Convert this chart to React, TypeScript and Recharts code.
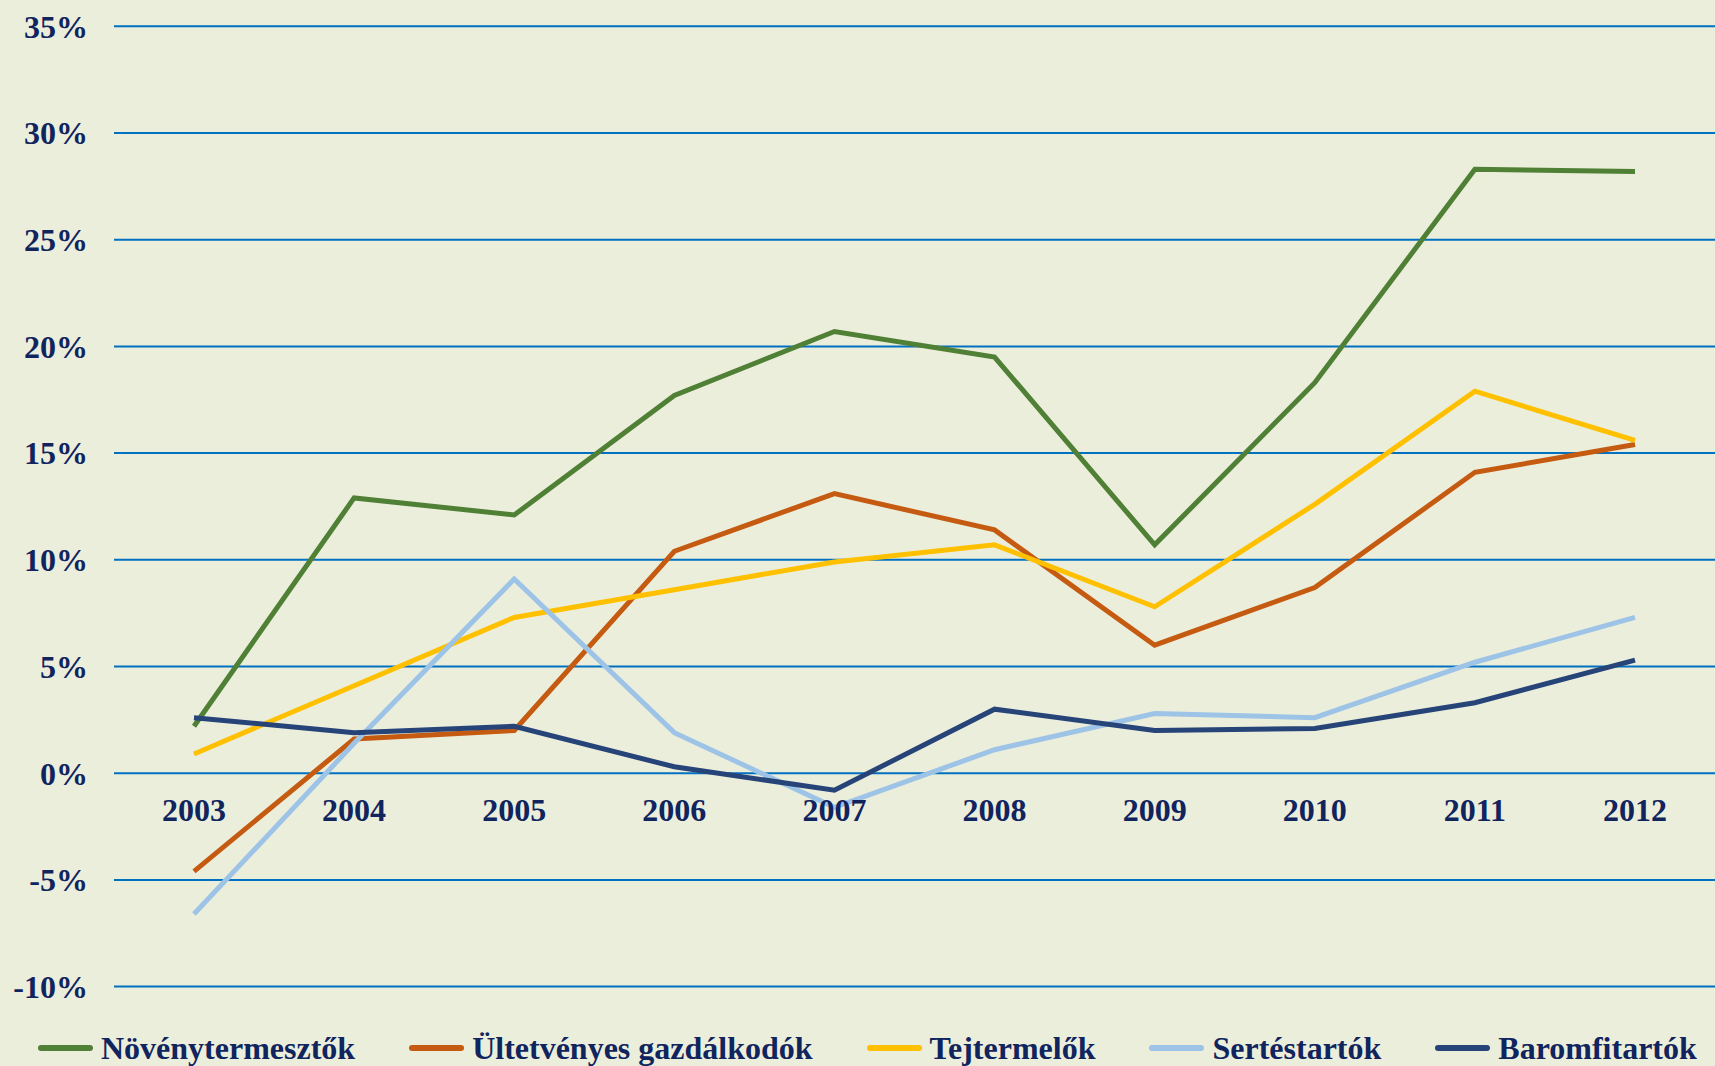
import React from 'react';
import { LineChart, Line, XAxis, YAxis, CartesianGrid, Legend } from 'recharts';

const years = ['2003', '2004', '2005', '2006', '2007', '2008', '2009', '2010', '2011', '2012'];
const novenytermesztok = [2.2, 12.9, 12.1, 17.7, 20.7, 19.5, 10.7, 18.3, 28.3, 28.2];
const ultetvenyes = [-4.6, 1.6, 2.0, 10.4, 13.1, 11.4, 6.0, 8.7, 14.1, 15.4];
const tejtermelok = [0.9, 4.1, 7.3, 8.6, 9.9, 10.7, 7.8, 12.6, 17.9, 15.6];
const sertestartok = [-6.6, 1.4, 9.1, 1.9, -1.6, 1.1, 2.8, 2.6, 5.2, 7.3];
const baromfitartok = [2.6, 1.9, 2.2, 0.3, -0.8, 3.0, 2.0, 2.1, 3.3, 5.3];
const yTicks = [-10, -5, 0, 5, 10, 15, 20, 25, 30, 35];

const seriesNames = ['Növénytermesztők', 'Ültetvényes gazdálkodók', 'Tejtermelők', 'Sertéstartók', 'Baromfitartók'];
const seriesColors = ['#4F8035', '#C55A11', '#FFC000', '#9DC3E6', '#264478'];
const seriesValues = [novenytermesztok, ultetvenyes, tejtermelok, sertestartok, baromfitartok];

const data = years.map((y, i) => {
  const row: any = { year: y };
  seriesNames.forEach((n, s) => { row[n] = seriesValues[s][i]; });
  return row;
});

const W = 1715;
const H = 1066;
const PLOT_TOP = 26.3;
const PLOT_BOTTOM = 986.6;
const LEGEND_H = 40;
const XAXIS_H = 2;
const Y_MIN = -10;
const Y_MAX = 35;
const FONT = '"Liberation Serif", "Times New Roman", serif';
const TEXT_COLOR = '#10245E';

const zeroY = PLOT_TOP + ((Y_MAX - 0) / (Y_MAX - Y_MIN)) * (PLOT_BOTTOM - PLOT_TOP);

const YearTick = (props: any) => {
  const { x, payload } = props;
  return (
    <text x={x} y={zeroY + 48} textAnchor="middle" fill={TEXT_COLOR} fontFamily={FONT} fontWeight="bold" fontSize={32}>
      {payload.value}
    </text>
  );
};

const LegendContent = () => {
  return (
    <div style={{ display: 'flex', alignItems: 'center', height: LEGEND_H, paddingLeft: 38, boxSizing: 'border-box' }}>
      {seriesNames.map((n, i) => (
        <div key={n} style={{ display: 'flex', alignItems: 'center', marginRight: 54 }}>
          <div style={{ width: 55, height: 6, background: seriesColors[i], borderRadius: 3, marginRight: 8 }} />
          <span style={{ fontFamily: FONT, fontWeight: 'bold', fontSize: 32, color: TEXT_COLOR, whiteSpace: 'nowrap', lineHeight: '40px' }}>
            {n}
          </span>
        </div>
      ))}
    </div>
  );
};

export default function App() {
  return (
    <div style={{ position: 'absolute', left: 0, top: 0, width: W, height: H, background: '#ECEEDC', overflow: 'hidden' }}>
      <LineChart
        width={W}
        height={H}
        data={data}
        margin={{ top: PLOT_TOP, right: 0, left: 0, bottom: H - PLOT_BOTTOM - LEGEND_H - XAXIS_H }}
      >
        <CartesianGrid horizontal vertical={false} stroke="#0070C0" strokeWidth={2} />
        <XAxis
          dataKey="year"
          height={XAXIS_H}
          axisLine={false}
          tickLine={false}
          padding={{ left: 80, right: 80 }}
          tick={(p: any) => <YearTick {...p} />}
          interval={0}
        />
        <YAxis
          width={114}
          domain={[Y_MIN, Y_MAX]}
          ticks={yTicks}
          axisLine={false}
          tickLine={false}
          tickSize={0}
          tickMargin={26}
          tickFormatter={(v: number) => `${v}%`}
          tick={{ fill: TEXT_COLOR, fontFamily: FONT, fontWeight: 'bold', fontSize: 32 }}
        />
        <Legend
          verticalAlign="bottom"
          content={() => <LegendContent />}
          wrapperStyle={{ left: 0, top: 1028, bottom: 'auto', width: W, height: LEGEND_H }}
        />
        {seriesNames.map((n, i) => (
          <Line
            key={n}
            type="linear"
            dataKey={n}
            name={n}
            stroke={seriesColors[i]}
            strokeWidth={5}
            dot={false}
            activeDot={false}
            isAnimationActive={false}
          />
        ))}
      </LineChart>
    </div>
  );
}
